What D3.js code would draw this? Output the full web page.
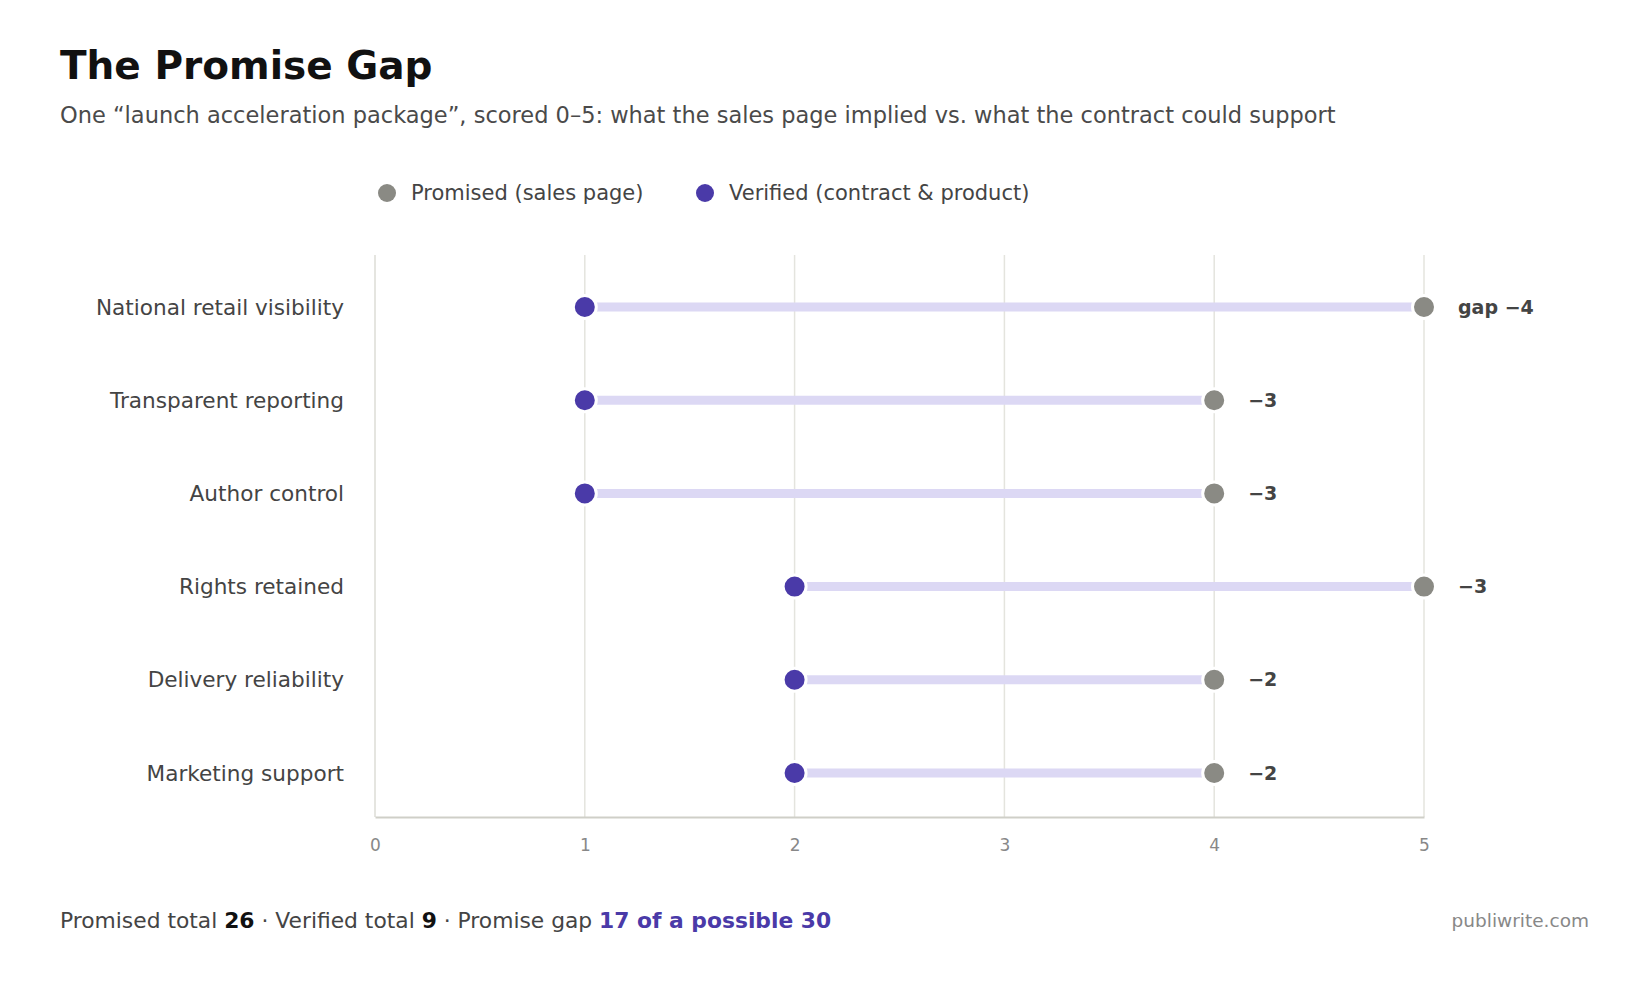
<!DOCTYPE html>
<html>
<head>
<meta charset="utf-8">
<script src="https://cdn.jsdelivr.net/npm/d3@7"></script>
<style>
  body { margin: 0; background: #fff; }
  text { font-family: "DejaVu Sans", sans-serif; }
</style>
</head>
<body>
<div id="chart-area"></div>
<script>
// data
const categories = ["National retail visibility", "Transparent reporting", "Author control",
  "Rights retained", "Delivery reliability", "Marketing support"]
const promised = [5, 4, 4, 5, 4, 4]
const verified = [1, 1, 1, 2, 2, 2]
const xTicks = [0, 1, 2, 3, 4, 5]

const WIDTH = 1650
const HEIGHT = 990
const PROMISED_COLOR = "#8a8a84"
const VERIFIED_COLOR = "#4a3aa8"
const BAR_COLOR = "#dcd8f4"
const TEXT_COLOR = "#444"

const rows = categories.map((c, i) => ({cat: c, promised: promised[i], verified: verified[i]}))

const svg = d3.select("#chart-area").append("svg")
  .attr("width", WIDTH)
  .attr("height", HEIGHT)

// titles
svg.append("text")
  .attr("x", 60).attr("y", 79)
  .attr("font-size", "39px")
  .attr("font-weight", "bold")
  .attr("fill", "#111")
  .text("The Promise Gap")

svg.append("text")
  .attr("x", 60).attr("y", 123)
  .attr("font-size", "22.5px")
  .attr("fill", "#4a4a4a")
  .text("One \u201claunch acceleration package\u201d, scored 0\u20135: what the sales page implied vs. what the contract could support")

// legend
const legendItems = [
  {label: "Promised (sales page)", color: PROMISED_COLOR, x: 387},
  {label: "Verified (contract & product)", color: VERIFIED_COLOR, x: 705}
]
legendItems.forEach(item => {
  const row = svg.append("g").attr("transform", `translate(${item.x},193)`)
  row.append("circle").attr("r", 9).attr("fill", item.color)
  row.append("text")
    .attr("x", 24).attr("y", 7)
    .attr("font-size", "21px")
    .attr("fill", TEXT_COLOR)
    .text(item.label)
})

// scales
const x = d3.scaleLinear()
  .domain([0, 5])
  .range([375, 1424])

const y = d3.scalePoint()
  .domain(categories)
  .range([307, 773])

const GRID_TOP = 255
const GRID_BOTTOM = 817

// grid
svg.append("g")
  .selectAll("line")
  .data(xTicks.slice(1))
  .enter().append("line")
  .attr("x1", d => x(d)).attr("x2", d => x(d))
  .attr("y1", GRID_TOP).attr("y2", GRID_BOTTOM)
  .attr("stroke", "#e4e4de")
  .attr("stroke-width", 1.5)

// y axis line
svg.append("line")
  .attr("x1", x(0)).attr("x2", x(0))
  .attr("y1", GRID_TOP).attr("y2", GRID_BOTTOM)
  .attr("stroke", "#dcdcd6")
  .attr("stroke-width", 1.5)

// x axis
const xAxisCall = d3.axisBottom(x)
  .tickValues(xTicks)
  .tickSize(0)
  .tickPadding(22)
  .tickFormat(d => d)

const xAxisGroup = svg.append("g")
  .attr("transform", `translate(0,${GRID_BOTTOM})`)
  .call(xAxisCall)
xAxisGroup.select(".domain")
  .attr("stroke", "#cfcfc8")
  .attr("stroke-width", 2)
xAxisGroup.selectAll("text")
  .attr("font-family", "DejaVu Sans, sans-serif")
  .attr("font-size", "17px")
  .attr("fill", "#888")

// category labels
svg.append("g")
  .selectAll("text")
  .data(categories)
  .enter().append("text")
  .attr("x", 344)
  .attr("y", d => y(d))
  .attr("dy", "0.35em")
  .attr("text-anchor", "end")
  .attr("font-size", "21.6px")
  .attr("fill", TEXT_COLOR)
  .text(d => d)

// connectors
svg.append("g")
  .selectAll("line")
  .data(rows)
  .enter().append("line")
  .attr("x1", d => x(d.verified))
  .attr("x2", d => x(d.promised))
  .attr("y1", d => y(d.cat))
  .attr("y2", d => y(d.cat))
  .attr("stroke", BAR_COLOR)
  .attr("stroke-width", 9)

// dots
const dotGroup = svg.append("g")
dotGroup.selectAll(".promised")
  .data(rows)
  .enter().append("circle")
  .attr("class", "promised")
  .attr("cx", d => x(d.promised))
  .attr("cy", d => y(d.cat))
  .attr("r", 11.5)
  .attr("fill", PROMISED_COLOR)
  .attr("stroke", "#fff")
  .attr("stroke-width", 3)

dotGroup.selectAll(".verified")
  .data(rows)
  .enter().append("circle")
  .attr("class", "verified")
  .attr("cx", d => x(d.verified))
  .attr("cy", d => y(d.cat))
  .attr("r", 11.5)
  .attr("fill", VERIFIED_COLOR)
  .attr("stroke", "#fff")
  .attr("stroke-width", 3)

// gap labels
svg.append("g")
  .selectAll("text")
  .data(rows)
  .enter().append("text")
  .attr("x", d => x(d.promised) + 34)
  .attr("y", d => y(d.cat))
  .attr("dy", "0.35em")
  .attr("font-size", "19px")
  .attr("font-weight", "bold")
  .attr("fill", TEXT_COLOR)
  .text((d, i) => (i === 0 ? "gap " : "") + "\u2212" + (d.promised - d.verified))

// footer
const promisedTotal = d3.sum(promised)
const verifiedTotal = d3.sum(verified)
const possible = categories.length * 5

const footer = svg.append("text")
  .attr("x", 60).attr("y", 928)
  .attr("font-size", "21.8px")
  .attr("fill", TEXT_COLOR)
footer.append("tspan").text("Promised total ")
footer.append("tspan").attr("font-weight", "bold").attr("fill", "#111").text(promisedTotal)
footer.append("tspan").text(" \u00b7 Verified total ")
footer.append("tspan").attr("font-weight", "bold").attr("fill", "#111").text(verifiedTotal)
footer.append("tspan").text(" \u00b7 Promise gap ")
footer.append("tspan").attr("font-weight", "bold").attr("fill", VERIFIED_COLOR)
  .text(`${promisedTotal - verifiedTotal} of a possible ${possible}`)

svg.append("text")
  .attr("x", 1589).attr("y", 927)
  .attr("text-anchor", "end")
  .attr("font-size", "18.5px")
  .attr("fill", "#888")
  .text("publiwrite.com")
</script>
</body>
</html>
